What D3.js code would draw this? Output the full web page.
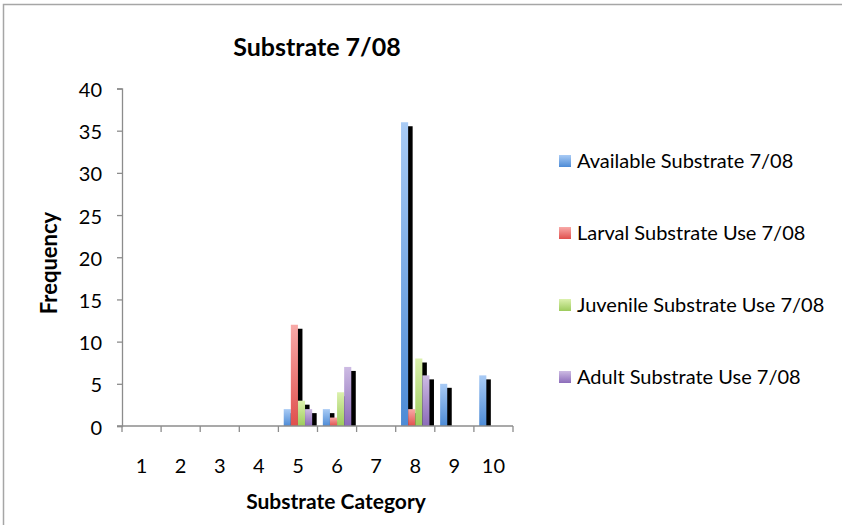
<!DOCTYPE html>
<html>
<head>
<meta charset="utf-8">
<script src="https://cdn.jsdelivr.net/npm/d3@7"></script>
<style>
  html, body { margin: 0; padding: 0; background: #fff; }
  svg { display: block; }
  text { font-family: Lato, "Open Sans", "DejaVu Sans", sans-serif; fill: #000; }
</style>
</head>
<body>
<svg id="chart" width="842" height="525"></svg>
<script>
// Substrate categories on the x axis
const categories = ["1", "2", "3", "4", "5", "6", "7", "8", "9", "10"];

// Frequency of each substrate category, one array per series
const available = [0, 0, 0, 0, 2, 2, 0, 36, 5, 6];
const larval    = [0, 0, 0, 0, 12, 1, 0, 2, 0, 0];
const juvenile  = [0, 0, 0, 0, 3, 4, 0, 8, 0, 0];
const adult     = [0, 0, 0, 0, 2, 7, 0, 6, 0, 0];

const seriesNames = [
  "Available Substrate 7/08",
  "Larval Substrate Use 7/08",
  "Juvenile Substrate Use 7/08",
  "Adult Substrate Use 7/08"
];
const yTicks = [0, 5, 10, 15, 20, 25, 30, 35, 40];

const series = [available, larval, juvenile, adult].map((vals, i) => ({
  name: seriesNames[i], values: vals
}));

// light-to-dark fills for each series
const palette = [
  { top: "#a9cbf5", bottom: "#4d8bd6" },
  { top: "#f8aaa8", bottom: "#e0504d" },
  { top: "#dcf1ae", bottom: "#9dcb5c" },
  { top: "#cdbbe3", bottom: "#8c6cba" }
];

const svg = d3.select("#chart");
const defs = svg.append("defs");
palette.forEach((c, i) => {
  const g = defs.append("linearGradient")
    .attr("id", "grad" + i)
    .attr("x1", 0).attr("y1", 0).attr("x2", 0).attr("y2", 1);
  g.append("stop").attr("offset", "0%").attr("stop-color", c.top);
  g.append("stop").attr("offset", "100%").attr("stop-color", c.bottom);
});
const blur = defs.append("filter").attr("id", "soft")
  .attr("x", "-20%").attr("y", "-5%").attr("width", "140%").attr("height", "110%");
blur.append("feGaussianBlur").attr("stdDeviation", 0.5);

// outer chart frame
svg.append("rect")
  .attr("x", 3.5).attr("y", 4.5).attr("width", 900).attr("height", 600)
  .attr("fill", "none").attr("stroke", "#a6a6a6").attr("stroke-width", 1.5);

const plot = { left: 122, right: 513, top: 88.5, bottom: 426 };

const x = d3.scaleBand().domain(categories).range([plot.left, plot.right]);
const y = d3.scaleLinear().domain([0, 40]).range([plot.bottom, plot.top]);

// clustered bars: 150% gap width between clusters
const gapWidth = 1.5;
const barW = x.bandwidth() / (series.length + gapWidth);
const inner = d3.scaleBand()
  .domain(d3.range(series.length))
  .range([barW * gapWidth / 2, barW * gapWidth / 2 + barW * series.length]);

const shadowDx = 4.5, shadowDy = 4;

const bars = svg.append("g");
categories.forEach((cat, ci) => {
  series.forEach((s, si) => {
    const v = s.values[ci];
    if (!v) return;
    const bx = x(cat) + inner(si);
    const by = y(v);
    // drop shadow behind the bar
    bars.append("rect")
      .attr("x", bx + shadowDx)
      .attr("y", by + shadowDy)
      .attr("width", barW)
      .attr("height", Math.max(0, y(0) - by - shadowDy))
      .attr("fill", "#000")
      .attr("filter", "url(#soft)");
    bars.append("rect")
      .attr("x", bx)
      .attr("y", by)
      .attr("width", barW)
      .attr("height", y(0) - by)
      .attr("fill", `url(#grad${si})`);
  });
});

// y axis
const yAxis = svg.append("g")
  .attr("transform", `translate(${plot.left},0)`)
  .call(d3.axisLeft(y).tickValues(yTicks).tickSize(5).tickPadding(15));
yAxis.select(".domain").attr("stroke", "#8c8c8c").attr("stroke-width", 1.3);
yAxis.selectAll(".tick line").attr("stroke", "#8c8c8c").attr("stroke-width", 1.3);
yAxis.selectAll(".tick text")
  .style("font-family", "Lato, 'Open Sans', sans-serif")
  .attr("font-size", 20).attr("fill", "#000").attr("dy", "0.4em");

// x axis: ticks on category boundaries
const xAxisG = svg.append("g").attr("transform", `translate(0,${plot.bottom})`);
xAxisG.append("line")
  .attr("x1", plot.left - 5).attr("x2", plot.right)
  .attr("stroke", "#8c8c8c").attr("stroke-width", 1.3);
const boundaries = categories.map(c => x(c)).concat([plot.right]);
xAxisG.selectAll("line.tk").data(boundaries).join("line")
  .attr("class", "tk")
  .attr("x1", d => d).attr("x2", d => d)
  .attr("y1", 0).attr("y2", 6)
  .attr("stroke", "#8c8c8c").attr("stroke-width", 1.3);
xAxisG.selectAll("text").data(categories).join("text")
  .attr("x", d => x(d) + x.bandwidth() / 2)
  .attr("y", 47)
  .attr("text-anchor", "middle")
  .attr("font-size", 20)
  .text(d => d);

// titles
svg.append("text")
  .attr("x", 317).attr("y", 56)
  .attr("text-anchor", "middle")
  .attr("font-size", 25).attr("font-weight", "bold")
  .text("Substrate 7/08");

svg.append("text")
  .attr("transform", "translate(57,263) rotate(-90)")
  .attr("text-anchor", "middle")
  .attr("font-size", 22).attr("font-weight", "bold")
  .text("Frequency");

svg.append("text")
  .attr("x", 336).attr("y", 509)
  .attr("text-anchor", "middle")
  .attr("font-size", 21).attr("font-weight", "bold")
  .text("Substrate Category");

// legend
const legendRows = [161, 233, 305, 377];
const legend = svg.append("g");
series.forEach((s, i) => {
  const row = legend.append("g").attr("transform", `translate(559,${legendRows[i]})`);
  row.append("rect")
    .attr("x", 0).attr("y", -6).attr("width", 12).attr("height", 12)
    .attr("fill", `url(#grad${i})`);
  row.append("text")
    .attr("x", 18).attr("y", 0)
    .attr("dy", "0.35em")
    .attr("font-size", 20)
    .text(s.name);
});
</script>
</body>
</html>
